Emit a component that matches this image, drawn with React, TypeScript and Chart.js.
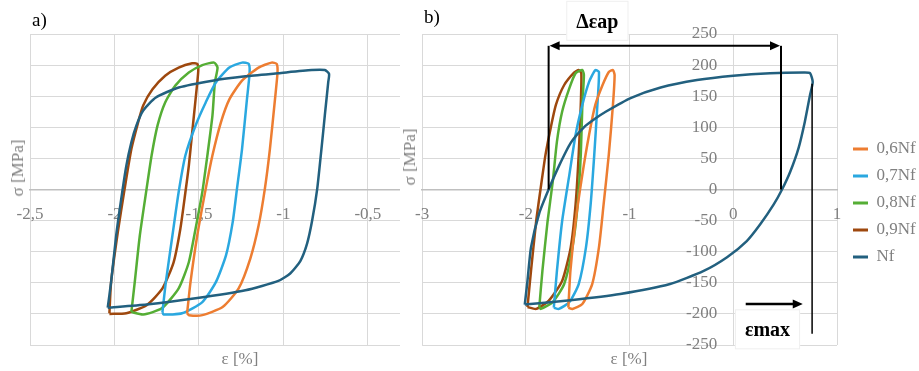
import React, { useEffect, useRef } from 'react';
import { Chart, registerables } from 'chart.js';

Chart.register(...registerables);

const FONT = '"Liberation Serif", "Times New Roman", serif';
const GREY = '#808080';
const GRID = '#d9d9d9';
const AXIS = '#bfbfbf';

// ---- series ----
const SERIES = ['0,6Nf', '0,7Nf', '0,8Nf', '0,9Nf', 'Nf'];
const COLORS = ['#ED7D31', '#2AA8E0', '#55AE35', '#9E480E', '#22607F'];

// ---- ticks ----
const Y_TICKS = [-250, -200, -150, -100, -50, 0, 50, 100, 150, 200, 250];
const A_X_TICKS = [-2.5, -2, -1.5, -1, -0.5];
const B_X_TICKS = [-3, -2, -1, 0, 1];

// ---- panel a) loops (strain %, stress MPa) ----
const a06X = [-1.57, -1.55, -1.51, -1.46, -1.42, -1.37, -1.32, -1.245, -1.147, -1.07, -1.04, -1.035, -1.05, -1.08, -1.11, -1.147, -1.196, -1.265, -1.36, -1.48, -1.56, -1.57];
const a06Y = [-199, -149, -74, 1, 55, 108, 145, 175, 196, 204, 202, 188, 145, 65, 1, -58, -111, -159, -189, -202, -202, -199];

const a07X = [-1.716, -1.696, -1.657, -1.62, -1.58, -1.52, -1.46, -1.4, -1.32, -1.245, -1.206, -1.2, -1.216, -1.245, -1.275, -1.3, -1.34, -1.4, -1.48, -1.6, -1.71, -1.716];
const a07Y = [-197, -149, -74, -4, 55, 103, 140, 172, 196, 204, 202, 188, 145, 65, 1, -52, -106, -149, -181, -199, -201, -197];

const a08X = [-1.9, -1.88, -1.85, -1.81, -1.78, -1.745, -1.7, -1.64, -1.56, -1.48, -1.41, -1.39, -1.406, -1.42, -1.45, -1.48, -1.52, -1.56, -1.62, -1.72, -1.83, -1.9];
const a08Y = [-197, -149, -74, 1, 55, 103, 140, 167, 188, 200, 204, 196, 172, 119, 55, -4, -63, -117, -159, -191, -201, -197];

const a09X = [-2.03, -2.02, -1.98, -1.94, -1.9, -1.86, -1.83, -1.775, -1.7, -1.62, -1.54, -1.51, -1.504, -1.52, -1.54, -1.56, -1.58, -1.61, -1.65, -1.716, -1.81, -1.93, -2.03];
const a09Y = [-199, -149, -68, 1, 65, 108, 135, 161, 183, 196, 203, 202, 191, 145, 92, 38, -4, -63, -117, -159, -186, -199, -200];

const aNfX = [-2.04, -2.02, -1.99, -1.96, -1.93, -1.9, -1.87, -1.83, -1.755, -1.62, -1.42, -1.225, -1.03, -0.833, -0.755, -0.73, -0.735, -0.755, -0.775, -0.8, -0.83, -0.86, -0.9, -0.96, -1.03, -1.225, -1.52, -1.81, -2.04];
const aNfY = [-190, -149, -74, -15, 38, 76, 103, 127, 148, 164, 175, 182, 187, 192, 192, 186, 172, 119, 65, 1, -50, -87, -115, -135, -147, -162, -175, -185, -190];

// ---- panel b) loops ----
const b06X = [-1.59, -1.57, -1.52, -1.455, -1.39, -1.33, -1.26, -1.2, -1.16, -1.144, -1.16, -1.2, -1.25, -1.295, -1.36, -1.455, -1.55, -1.59];
const b06Y = [-190, -131, -51, 24, 88, 136, 168, 189, 192, 184, 136, 56, -24, -93, -152, -184, -192, -190];

const b07X = [-1.73, -1.7, -1.65, -1.58, -1.52, -1.455, -1.39, -1.33, -1.295, -1.31, -1.34, -1.375, -1.42, -1.49, -1.58, -1.68, -1.73];
const b07Y = [-190, -131, -51, 24, 88, 136, 173, 192, 189, 136, 56, -24, -93, -152, -181, -192, -190];

const b08X = [-1.87, -1.84, -1.79, -1.74, -1.7, -1.65, -1.58, -1.52, -1.455, -1.44, -1.455, -1.47, -1.5, -1.55, -1.63, -1.74, -1.856, -1.87];
const b08Y = [-189, -131, -51, 13, 77, 125, 163, 187, 192, 184, 136, 56, -24, -93, -152, -181, -192, -189];

const b09X = [-1.984, -1.95, -1.9, -1.856, -1.81, -1.76, -1.71, -1.63, -1.535, -1.49, -1.465, -1.47, -1.49, -1.52, -1.567, -1.65, -1.78, -1.9, -1.984];
const b09Y = [-189, -131, -51, 3, 56, 99, 136, 168, 188, 192, 187, 136, 56, -24, -93, -147, -179, -192, -189];

const bNfX = [-2.01, -1.984, -1.95, -1.87, -1.78, -1.68, -1.567, -1.44, -1.33, -1.23, -0.99, -0.7, -0.35, 0, 0.355, 0.676, 0.74, 0.766, 0.74, 0.69, 0.63, 0.55, 0.47, 0.39, 0.26, 0.13, -0.06, -0.285, -0.61, -1.09, -1.57, -2.01];
const bNfY = [-185, -147, -93, -38, 0, 38, 75, 100, 114, 125, 147, 164, 176, 183, 187, 188, 187, 173, 152, 109, 67, 29, 0, -24, -56, -83, -109, -131, -152, -168, -178, -185];

// ---- annotation values (panel b) ----
const DELTA_EPS_AP = [-1.78, 0.46]; // strain bounds of the range arrow
const DELTA_ARROW_SIGMA = 231;
const EPS_MAX = 0.76;
const EPS_MAX_LINE_SIGMA = [170, -232];
const EPS_MAX_ARROW = [0.12, 0.67];
const EPS_MAX_ARROW_SIGMA = -184;
const DELTA_LABEL = { text: 'Δεap', x: -1.31, y: 268 };
const EMAX_LABEL = { text: 'εmax', x: 0.33, y: -228 };
const Y_LABELS_AT = -0.155; // strain where the stress labels of panel b end

const zip = (xs: number[], ys: number[]) => xs.map((x, i) => ({ x, y: ys[i] }));
const fmt = (v: number | string) => String(v).replace('.', ',');

const makeDatasets = (pairs: [number[], number[]][]) =>
  pairs.map(([xs, ys], i) => ({
    label: SERIES[i],
    data: zip(xs, ys),
    borderColor: COLORS[i],
    backgroundColor: COLORS[i],
    borderWidth: 2.5,
    showLine: true,
    pointRadius: 0,
    pointHoverRadius: 0,
    tension: 0.2,
    fill: false,
    order: i === 4 ? -1 : i,
  }));

const tickFont = { family: FONT, size: 17 };

const xScale = (min: number, max: number, ticks: number[]) => ({
  type: 'linear',
  min,
  max,
  position: { y: 0 },
  afterFit: (s: any) => { s.height = 0; },
  afterBuildTicks: (s: any) => { s.ticks = ticks.map((v) => ({ value: v })); },
  grid: { color: GRID, lineWidth: 1, drawTicks: false },
  border: { display: true, color: AXIS, width: 1.5 },
  ticks: { color: GREY, font: tickFont, padding: 15, maxRotation: 0, autoSkip: false, callback: (v: any) => fmt(v) },
});

const arrowHead = (ctx: CanvasRenderingContext2D, x: number, y: number, dir: number) => {
  ctx.beginPath();
  ctx.moveTo(x, y);
  ctx.lineTo(x - dir * 10, y - 4.5);
  ctx.lineTo(x - dir * 10, y + 4.5);
  ctx.closePath();
  ctx.fill();
};

const seg = (ctx: CanvasRenderingContext2D, x1: number, y1: number, x2: number, y2: number) => {
  ctx.beginPath();
  ctx.moveTo(x1, y1);
  ctx.lineTo(x2, y2);
  ctx.stroke();
};

const labelBox = (ctx: CanvasRenderingContext2D, text: string, cx: number, cy: number) => {
  ctx.font = `bold 20px ${FONT}`;
  const w = ctx.measureText(text).width + 20;
  ctx.fillStyle = '#ffffff';
  ctx.strokeStyle = '#efefef';
  ctx.lineWidth = 1;
  ctx.fillRect(cx - w / 2, cy - 22, w, 40);
  ctx.strokeRect(cx - w / 2 + 0.5, cy - 21.5, w - 1, 39);
  ctx.fillStyle = '#000000';
  ctx.textAlign = 'center';
  ctx.textBaseline = 'middle';
  ctx.fillText(text, cx, cy);
};

const annotationPlugin = {
  id: 'strainAnnotations',
  afterDraw(chart: any) {
    const { ctx } = chart;
    const x = chart.scales.x;
    const y = chart.scales.y;
    ctx.save();
    ctx.strokeStyle = '#000';
    ctx.fillStyle = '#000';
    ctx.lineWidth = 2;
    const xl = x.getPixelForValue(DELTA_EPS_AP[0]);
    const xr = x.getPixelForValue(DELTA_EPS_AP[1]);
    const ya = y.getPixelForValue(DELTA_ARROW_SIGMA);
    const y0 = y.getPixelForValue(0);
    seg(ctx, xl, ya, xl, y0);
    seg(ctx, xr, ya, xr, y0);
    seg(ctx, xl + 6, ya, xr - 6, ya);
    arrowHead(ctx, xl + 1, ya, -1);
    arrowHead(ctx, xr - 1, ya, 1);

    const xm = x.getPixelForValue(EPS_MAX);
    ctx.lineWidth = 1.5;
    seg(ctx, xm, y.getPixelForValue(EPS_MAX_LINE_SIGMA[0]), xm, y.getPixelForValue(EPS_MAX_LINE_SIGMA[1]));
    ctx.lineWidth = 2.5;
    const ye = y.getPixelForValue(EPS_MAX_ARROW_SIGMA);
    const x1 = x.getPixelForValue(EPS_MAX_ARROW[0]);
    const x2 = x.getPixelForValue(EPS_MAX_ARROW[1]);
    seg(ctx, x1, ye, x2 - 6, ye);
    arrowHead(ctx, x2, ye, 1);

    labelBox(ctx, DELTA_LABEL.text, x.getPixelForValue(DELTA_LABEL.x), y.getPixelForValue(DELTA_LABEL.y));
    labelBox(ctx, EMAX_LABEL.text, x.getPixelForValue(EMAX_LABEL.x), y.getPixelForValue(EMAX_LABEL.y));
    ctx.restore();
  },
};

const legendShift = {
  id: 'legendShift',
  afterLayout(chart: any) {
    const l = chart.legend;
    if (!l) return;
    l.left += 6;
    l.right += 6;
    l.top += 13.5;
    l.bottom += 13.5;
  },
};

const configA: any = {
  type: 'scatter',
  data: {
    datasets: makeDatasets([
      [a06X, a06Y], [a07X, a07Y], [a08X, a08Y], [a09X, a09Y], [aNfX, aNfY],
    ]),
  },
  options: {
    animation: false,
    responsive: false,
    maintainAspectRatio: false,
    events: [],
    layout: { padding: { left: 30, top: 34, right: 0, bottom: 26 } },
    plugins: { legend: { display: false }, tooltip: { enabled: false } },
    scales: {
      x: xScale(-2.5, -0.31, A_X_TICKS),
      y: {
        type: 'linear',
        min: -250,
        max: 250,
        position: 'left',
        afterFit: (s: any) => { s.width = 0; },
        grid: { color: GRID, lineWidth: 1, drawTicks: false },
        border: { display: false },
        ticks: { display: false, stepSize: 50 },
      },
    },
  },
};

const configB: any = {
  type: 'scatter',
  data: {
    datasets: makeDatasets([
      [b06X, b06Y], [b07X, b07Y], [b08X, b08Y], [b09X, b09Y], [bNfX, bNfY],
    ]),
  },
  options: {
    animation: false,
    responsive: false,
    maintainAspectRatio: false,
    events: [],
    layout: { padding: { left: 21, top: 34, right: 0, bottom: 26 } },
    plugins: {
      tooltip: { enabled: false },
      legend: {
        position: 'right',
        maxWidth: 82,
        labels: {
          boxWidth: 15,
          boxHeight: 3,
          padding: 10,
          color: GREY,
          font: { family: FONT, size: 17 },
          sort: (a: any, b: any) => a.datasetIndex - b.datasetIndex,
          generateLabels: (chart: any) =>
            Chart.defaults.plugins.legend.labels.generateLabels(chart).map((l: any) => ({ ...l, lineWidth: 0 })),
        },
      },
    },
    scales: {
      x: xScale(-3, 1, B_X_TICKS),
      y: {
        type: 'linear',
        min: -250,
        max: 250,
        position: { x: Y_LABELS_AT },
        afterFit: (s: any) => { s.width = 0; },
        afterBuildTicks: (s: any) => { s.ticks = Y_TICKS.map((v) => ({ value: v })); },
        grid: { color: GRID, lineWidth: 1, drawTicks: false },
        border: { display: false },
        ticks: { color: GREY, font: tickFont, padding: 0, callback: (v: any) => String(v) },
      },
    },
  },
  plugins: [annotationPlugin, legendShift],
};

const txt = (extra: React.CSSProperties): React.CSSProperties => ({
  position: 'absolute',
  whiteSpace: 'nowrap',
  fontFamily: FONT,
  lineHeight: '20px',
  ...extra,
});

export default function App() {
  const refA = useRef<HTMLCanvasElement>(null);
  const refB = useRef<HTMLCanvasElement>(null);

  useEffect(() => {
    const ca = new Chart(refA.current as HTMLCanvasElement, configA);
    const cb = new Chart(refB.current as HTMLCanvasElement, configB);
    return () => {
      ca.destroy();
      cb.destroy();
    };
  }, []);

  return (
    <div style={{ position: 'fixed', left: 0, top: 0, width: 919, height: 371, background: '#fff', overflow: 'hidden' }}>
      <canvas ref={refA} width={400} height={371} style={{ position: 'absolute', left: 0, top: 0, width: 400, height: 371 }} />
      <canvas ref={refB} width={519} height={371} style={{ position: 'absolute', left: 400, top: 0, width: 519, height: 371 }} />
      <div style={txt({ left: 32, top: 10, fontSize: 19, color: '#000' })}>a)</div>
      <div style={txt({ left: 424, top: 7, fontSize: 19, color: '#000' })}>b)</div>
      <div style={txt({ left: 18, top: 168, fontSize: 17, color: GREY, transform: 'translate(-50%, -50%) rotate(-90deg)' })}>σ [MPa]</div>
      <div style={txt({ left: 240, top: 359, fontSize: 17, color: GREY, transform: 'translate(-50%, -50%)' })}>ε [%]</div>
      <div style={txt({ left: 410, top: 157, fontSize: 17, color: GREY, transform: 'translate(-50%, -50%) rotate(-90deg)' })}>σ [MPa]</div>
      <div style={txt({ left: 629, top: 359, fontSize: 17, color: GREY, transform: 'translate(-50%, -50%)' })}>ε [%]</div>
    </div>
  );
}
